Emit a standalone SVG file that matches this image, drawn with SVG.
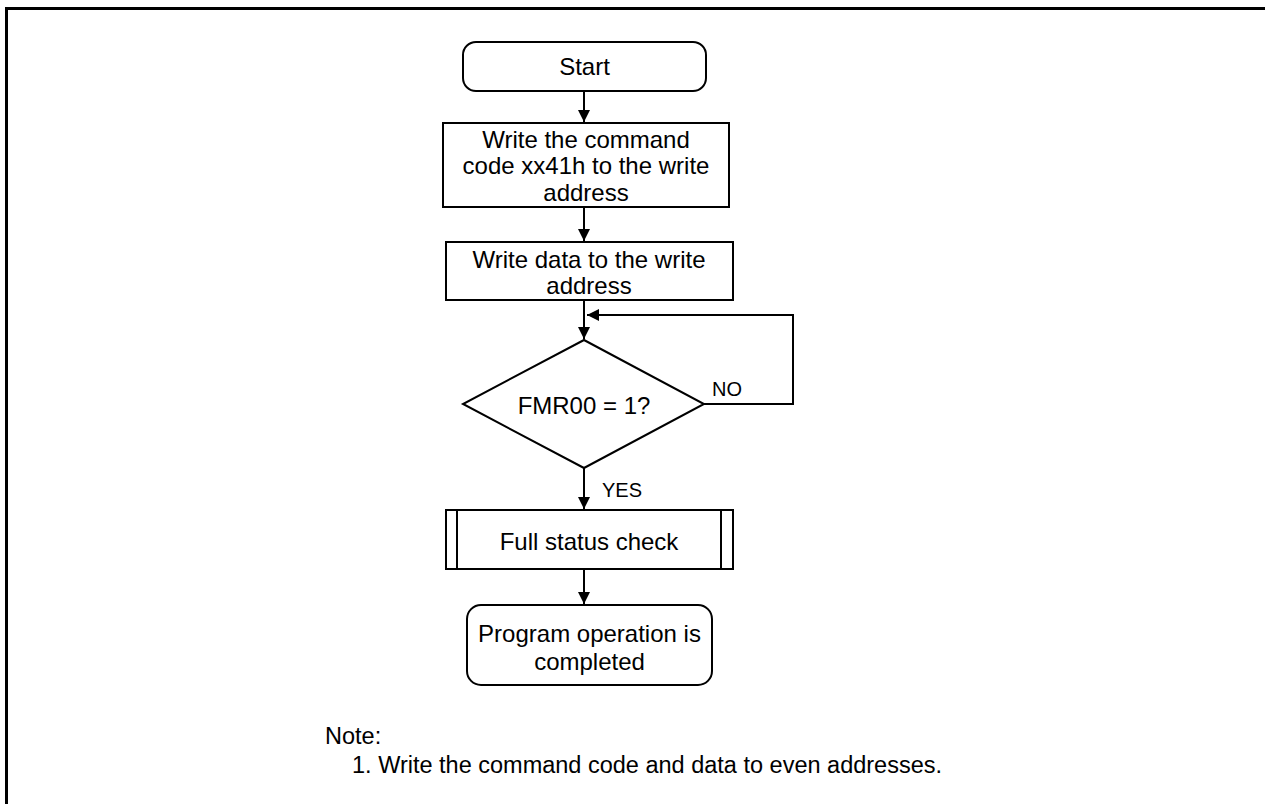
<svg xmlns="http://www.w3.org/2000/svg" width="1265" height="804" viewBox="0 0 1265 804">
<defs>
<style>
.s{fill:#fff;stroke:#000;stroke-width:2}
.t{font-family:"Liberation Sans",Arial,sans-serif;font-size:24px;fill:#000;text-anchor:middle}
.l{font-family:"Liberation Sans",Arial,sans-serif;font-size:20px;fill:#000}
.n{font-family:"Liberation Sans",Arial,sans-serif;font-size:23.5px;fill:#000}
.c{fill:none;stroke:#000;stroke-width:2}
</style>
<marker id="ah" viewBox="0 0 12 12" refX="12" refY="6" markerWidth="12" markerHeight="12" markerUnits="userSpaceOnUse" orient="auto">
<path d="M0,0 L12,6 L0,12 Z" fill="#000"/>
</marker>
</defs>
<rect width="1265" height="804" fill="#fff"/>
<path d="M6.5,804 V8.5 H1265" fill="none" stroke="#000" stroke-width="3"/>
<g id="connectors">
<line class="c" x1="584" y1="91" x2="584" y2="122" marker-end="url(#ah)"/>
<line class="c" x1="584" y1="207" x2="584" y2="241" marker-end="url(#ah)"/>
<line class="c" x1="584" y1="300" x2="584" y2="339" marker-end="url(#ah)"/>
<polyline class="c" points="704,404 793,404 793,315 587,315" marker-end="url(#ah)"/>
<line class="c" x1="584" y1="468" x2="584" y2="509" marker-end="url(#ah)"/>
<line class="c" x1="584" y1="569" x2="584" y2="604" marker-end="url(#ah)"/>
<text class="l" x="712" y="396">NO</text>
<text class="l" x="602" y="497">YES</text>
</g>
<g id="start">
<rect class="s" x="463" y="42" width="243" height="49" rx="13"/>
<text class="t" x="584.5" y="75">Start</text>
</g>
<g id="write-command">
<rect class="s" x="443" y="123" width="286" height="84"/>
<text class="t" x="586" y="147.5">Write the command</text>
<text class="t" x="586" y="174">code xx41h to the write</text>
<text class="t" x="586" y="200.5">address</text>
</g>
<g id="write-data">
<rect class="s" x="446" y="242" width="287" height="58"/>
<text class="t" x="589" y="267.5">Write data to the write</text>
<text class="t" x="589" y="293.5">address</text>
</g>
<g id="decision">
<polygon class="s" points="584,340 704,404 584,468 463,404"/>
<text class="t" x="584" y="414">FMR00 = 1?</text>
</g>
<g id="full-status">
<rect class="s" x="446" y="510" width="287" height="59"/>
<line class="c" x1="457" y1="510" x2="457" y2="569"/>
<line class="c" x1="721" y1="510" x2="721" y2="569"/>
<text class="t" x="589" y="550">Full status check</text>
</g>
<g id="end">
<rect class="s" x="467" y="605" width="245" height="80" rx="14"/>
<text class="t" x="589.5" y="642">Program operation is</text>
<text class="t" x="589.5" y="670">completed</text>
</g>
<g id="note">
<text class="n" x="325" y="744">Note:</text>
<text class="n" x="352" y="773">1. Write the command code and data to even addresses.</text>
</g>
</svg>
